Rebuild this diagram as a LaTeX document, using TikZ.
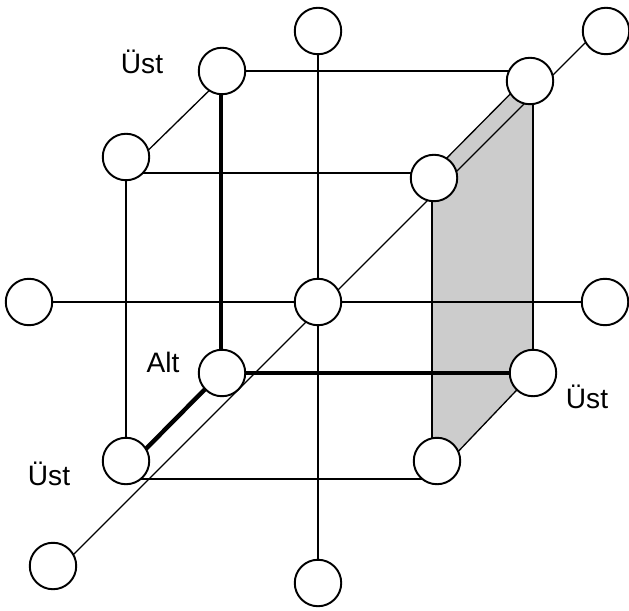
\documentclass[tikz,border=0pt]{standalone}
\usepackage{fontspec}
\setmainfont{Liberation Sans}
\begin{document}
\begin{tikzpicture}[x=0.02cm, y=-0.02cm,
    ball/.style={draw=black, circle, fill=white, line width=1.1pt,
                 minimum size=0.93cm, inner sep=0pt},
    edge/.style={line width=0.75pt},
    bold/.style={line width=2.5pt},
    tag/.style={anchor=base, inner sep=0pt,
                font=\fontsize{16}{19}\selectfont}]
    \useasboundingbox (0, 0) rectangle (629, 611);

    % corners of the cube
    \coordinate (f1) at (126, 173);
    \coordinate (f2) at (432, 173);
    \coordinate (f3) at (432, 479);
    \coordinate (f4) at (126, 479);
    \coordinate (b1) at (221, 71);
    \coordinate (b2) at (533, 71);
    \coordinate (b3) at (533, 373);
    \coordinate (b4) at (221, 373);
    \coordinate (u1) at (126, 172);
    \coordinate (u2) at (222, 78);
    \coordinate (w1) at (126, 469);
    \coordinate (d1) at (56, 572);
    \coordinate (d2) at (600, 28);

    \fill [black!20] (f2) -- (b2) -- (b3) -- (f3) -- cycle;

    \draw [edge] (f1) -- (f2) -- (f3) -- (f4) -- cycle;
    \draw [edge] (b1) -- (b2) -- (b3);
    \draw [edge] (u1) -- (u2);
    \draw [edge] (f2) -- (b2);
    \draw [edge] (f3) -- (b3);
    \draw [edge] (d1) -- (d2);
    \draw [bold] (b1) -- (b4) -- (b3);
    \draw [bold] (w1) -- (b4);

    \draw (318, 31) node [ball] (t) {};
    \draw (606, 31) node [ball] (tr) {};
    \draw (222, 71) node [ball] (btl) {};
    \draw (530, 81) node [ball] (btr) {};
    \draw (126, 157) node [ball] (ftl) {};
    \draw (434, 178) node [ball] (ftr) {};
    \draw (29, 302) node [ball] (l) {};
    \draw (318, 302) node [ball] (c) {};
    \draw (605, 302) node [ball] (r) {};
    \draw (222, 373) node [ball] (bbl) {};
    \draw (533, 373) node [ball] (bbr) {};
    \draw (126, 461) node [ball] (fbl) {};
    \draw (437, 461) node [ball] (fbr) {};
    \draw (53, 566) node [ball] (bl) {};
    \draw (318, 583) node [ball] (b) {};

    \draw [edge] (l) -- (c) -- (r);
    \draw [edge] (t) -- (c) -- (b);

    \draw (142, 74) node [tag] (ust1) {Üst};
    \draw (163, 373) node [tag] (alt) {Alt};
    \draw (49, 485) node [tag] (ust2) {Üst};
    \draw (587, 408) node [tag] (ust3) {Üst};
\end{tikzpicture}
\end{document}
